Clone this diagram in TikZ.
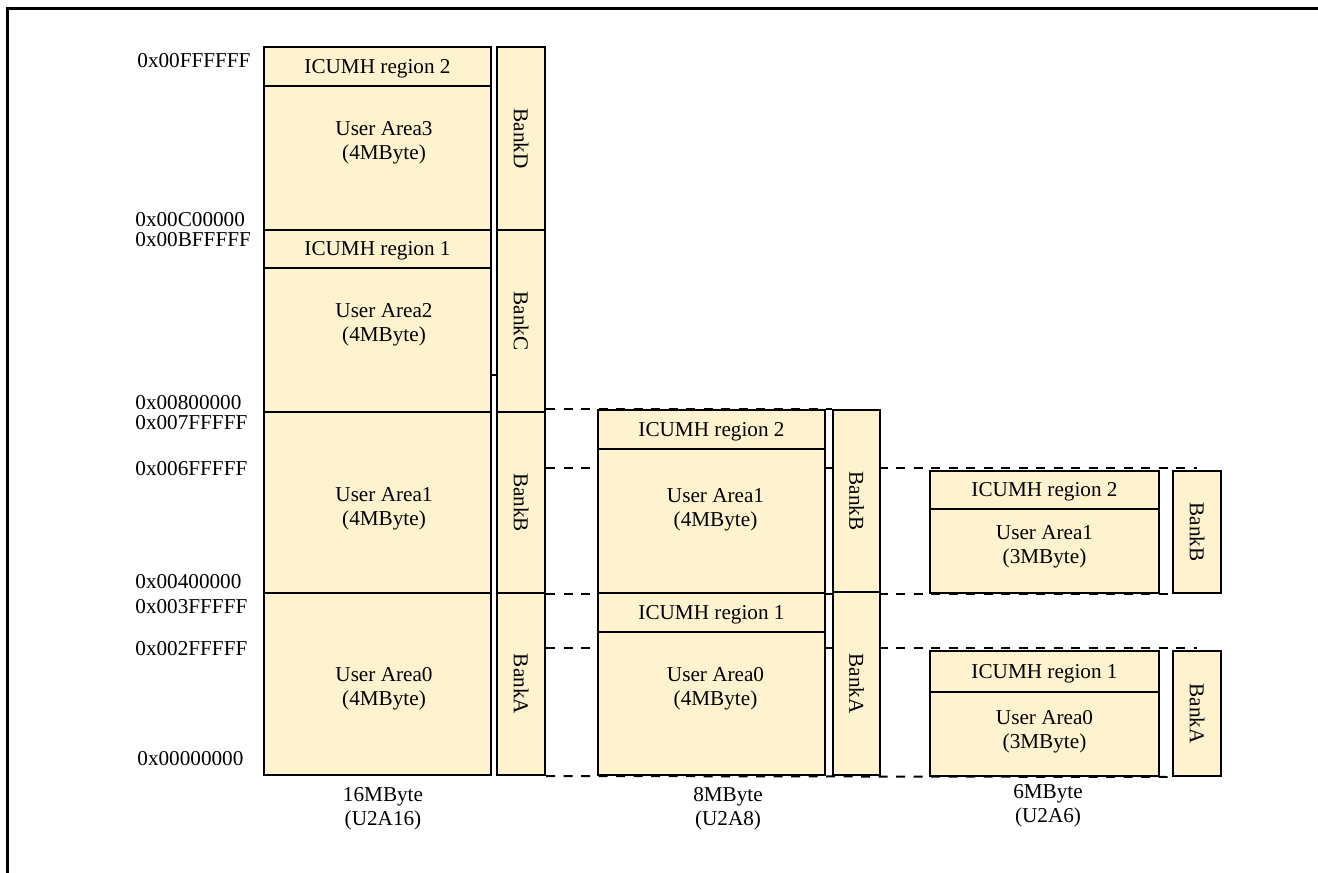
\documentclass[tikz,border=0pt]{standalone}
\usepackage{fontspec}
\setmainfont{Liberation Serif}
\usepackage{tikz}
\usetikzlibrary{fit,backgrounds}
\definecolor{areafill}{RGB}{255,242,206}

\begin{document}
\begin{tikzpicture}[
  x=0.5pt, y=-0.5pt,
  font=\fontsize{10.6}{12}\selectfont,
  area/.style={draw,line width=1pt,fill=areafill,inner sep=0pt},
  bank/.style={draw,line width=1pt,fill=areafill,inner sep=0pt},
  txt/.style={align=center,inner sep=0pt},
  addr/.style={anchor=west,inner sep=0pt},
  sep/.style={line width=1pt,dash pattern=on 4.5pt off 4.25pt}
]
\useasboundingbox (0,0) rectangle (1318,873);
\draw[line width=1.3pt] (1318,8.5) -- (7.5,8.5) -- (7.5,873);

\node[area,fit={(264,47) (491,86)}] (ic2a) {};
\node[area,fit={(264,86) (491,230)}] (ua3) {};
\node[area,fit={(264,230) (491,268)}] (ic1a) {};
\node[area,fit={(264,268) (491,412)}] (ua2) {};
\node[area,fit={(264,412) (491,593)}] (ua1a) {};
\node[area,fit={(264,593) (491,775)}] (ua0a) {};
\node[txt] (tic2a) at ([yshift=-1pt]ic2a.center) {ICUMH region 2};
\node[txt] (tic1a) at ([yshift=-1pt]ic1a.center) {ICUMH region 1};
\node[txt] (tua3) at (384,143) {User Area3\\(4MByte)};
\node[txt] (tua2) at (384,325) {User Area2\\(4MByte)};
\node[txt] (tua1a) at (384,509) {User Area1\\(4MByte)};
\node[txt] (tua0a) at (384,689) {User Area0\\(4MByte)};
\node[bank,fit={(497,47) (545,230)}] (bD16) {\rotatebox{-90}{BankD}};
\node[bank,fit={(497,230) (545,412)}] (bC16) {\rotatebox{-90}{BankC}};
\node[bank,fit={(497,412) (545,593)}] (bB16) {\rotatebox{-90}{BankB}};
\node[bank,fit={(497,593) (545,775)}] (bA16) {\rotatebox{-90}{BankA}};
\draw[line width=1pt] ([yshift=-17.5pt]ua2.east) -- ++(3pt,0);

\node[area,fit={(598,410) (825,449)}] (ic2m) {};
\node[area,fit={(598,449) (825,593)}] (ua1m) {};
\node[area,fit={(598,593) (825,632)}] (ic1m) {};
\node[area,fit={(598,632) (825,775)}] (ua0m) {};
\node[txt] (tic2m) at ([yshift=-1pt]ic2m.center) {ICUMH region 2};
\node[txt] (tic1m) at ([yshift=-1pt]ic1m.center) {ICUMH region 1};
\node[txt] (tua1m) at (715.5,509.5) {User Area1\\(4MByte)};
\node[txt] (tua0m) at (715.5,689) {User Area0\\(4MByte)};
\node[bank,fit={(833,410) (880,592)}] (bBm) {\rotatebox{-90}{BankB}};
\node[bank,fit={(833,592) (880,775)}] (bAm) {\rotatebox{-90}{BankA}};

\node[area,fit={(930,471) (1159,509)}] (ic2r) {};
\node[area,fit={(930,509) (1159,593)}] (ua1r) {};
\node[area,fit={(930,651) (1159,692)}] (ic1r) {};
\node[area,fit={(930,692) (1159,776)}] (ua0r) {};
\node[txt] (tic2r) at ([yshift=-1pt]ic2r.center) {ICUMH region 2};
\node[txt] (tic1r) at ([yshift=-1pt]ic1r.center) {ICUMH region 1};
\node[txt] (tua1r) at (1044.5,547) {User Area1\\(3MByte)};
\node[txt] (tua0r) at (1044.5,732) {User Area0\\(3MByte)};
\node[bank,fit={(1173,471) (1221,593)}] (bBr) {\rotatebox{-90}{BankB}};
\node[bank,fit={(1173,651) (1221,776)}] (bAr) {\rotatebox{-90}{BankA}};

\node[addr] (aFFF) at (137,61) {0x00FFFFFF};
\node[addr] (aC00) at (135,220) {0x00C00000};
\node[addr] (aBFF) at (135,240) {0x00BFFFFF};
\node[addr] (a800) at (135,403) {0x00800000};
\node[addr] (a7FF) at (135,423) {0x007FFFFF};
\node[addr] (a6FF) at (135,469) {0x006FFFFF};
\node[addr] (a400) at (135,582) {0x00400000};
\node[addr] (a3FF) at (135,607) {0x003FFFFF};
\node[addr] (a2FF) at (135,649) {0x002FFFFF};
\node[addr] (a000) at (137,759) {0x00000000};

\node[txt] (sz16) at (383,809) {16MByte\\(U2A16)};
\node[txt] (sz8) at (728,809) {8MByte\\(U2A8)};
\node[txt] (sz6) at (1048,806) {6MByte\\(U2A6)};

\coordinate (lvl6) at ([yshift=1pt]ic2r.north);
\coordinate (lvl2) at ([yshift=1pt]ic1r.north);
\begin{scope}[on background layer]
\draw[sep] (bB16.east |- ic2m.north) -- (bBm.north west);
\draw[sep] (bB16.east |- lvl6) -- (lvl6 -| bBr.center);
\draw[sep] (bB16.south east) -- (bBr.south west);
\draw[sep] (bA16.east |- lvl2) -- (lvl2 -| bAr.center);
\draw[sep] (bA16.south east) -- (bAr.south west);
\end{scope}
\end{tikzpicture}
\end{document}
